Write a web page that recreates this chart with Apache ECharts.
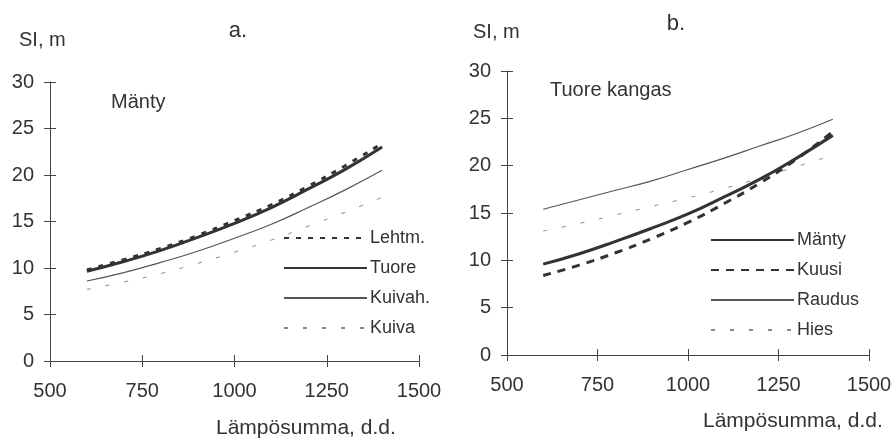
<!DOCTYPE html>
<html>
<head>
<meta charset="utf-8">
<script src="https://cdn.jsdelivr.net/npm/echarts@6/dist/echarts.min.js"></script>
<style>
html,body{margin:0;padding:0;background:#fff;}
#main{width:895px;height:439px;}
</style>
</head>
<body>
<div id="main"></div>
<script>
// ---- data ----
var lampo = [600, 700, 800, 900, 1000, 1100, 1200, 1300, 1400];
// panel a: Mänty by site type
var lehtm  = [9.8, 10.9, 12.1, 13.5, 15.1, 16.8, 18.8, 21.0, 23.4];
var tuore  = [9.65, 10.7, 11.9, 13.3, 14.8, 16.5, 18.5, 20.6, 23.0];
var kuivah = [8.6, 9.5, 10.6, 11.8, 13.2, 14.7, 16.5, 18.4, 20.5];
var kuiva  = [7.7, 8.5, 9.4, 10.5, 11.7, 13.0, 14.5, 16.0, 17.6];
// panel b: tuore kangas by species
var manty  = [9.6, 10.7, 12.0, 13.4, 14.9, 16.7, 18.6, 20.8, 23.2];
var kuusi  = [8.4, 9.5, 10.8, 12.3, 14.0, 16.0, 18.2, 20.7, 23.6];
var raudus = [15.4, 16.4, 17.4, 18.4, 19.6, 20.8, 22.1, 23.4, 24.9];
var hies   = [13.1, 13.9, 14.8, 15.7, 16.6, 17.6, 18.7, 19.9, 21.1];
var xTicks = [500, 750, 1000, 1250, 1500];
var yTicks = [0, 5, 10, 15, 20, 25, 30];
var namesA = ['Lehtm.', 'Tuore', 'Kuivah.', 'Kuiva'];
var namesB = ['Mänty', 'Kuusi', 'Raudus', 'Hies'];

function pairs(ys){ return lampo.map(function(x,i){ return [x, ys[i]]; }); }

var FONT = '"Liberation Sans", Arial, sans-serif';
var AX = '#444';
function plain(v){ return String(v); }

function xAxes(gi){
  return [{
    type:'value', gridIndex:gi, position:'bottom', offset:0,
    min:xTicks[0], max:xTicks[xTicks.length-1], interval:250,
    axisLine:{show:true, onZero:false, lineStyle:{color:AX, width:1}},
    axisTick:{show:true, inside:false, length:6, lineStyle:{color:AX}},
    axisLabel:{show:true, margin:20, fontSize:20, fontFamily:FONT, color:'#333', formatter:plain},
    splitLine:{show:false}
  },{
    type:'value', gridIndex:gi, position:'bottom', offset:0,
    min:xTicks[0], max:xTicks[xTicks.length-1], interval:250,
    axisLine:{show:false, onZero:false},
    axisTick:{show:true, inside:true, length:6, lineStyle:{color:AX}},
    axisLabel:{show:false}, splitLine:{show:false}
  }];
}
function yAxes(gi){
  return [{
    type:'value', gridIndex:gi, position:'left', offset:0,
    min:yTicks[0], max:yTicks[yTicks.length-1], interval:5,
    axisLine:{show:true, onZero:false, lineStyle:{color:AX, width:1}},
    axisTick:{show:true, inside:false, length:6, lineStyle:{color:AX}},
    axisLabel:{show:true, margin:16, fontSize:20, fontFamily:FONT, color:'#333', formatter:plain},
    splitLine:{show:false}
  },{
    type:'value', gridIndex:gi, position:'left', offset:0,
    min:yTicks[0], max:yTicks[yTicks.length-1], interval:5,
    axisLine:{show:false, onZero:false},
    axisTick:{show:true, inside:true, length:6, lineStyle:{color:AX}},
    axisLabel:{show:false}, splitLine:{show:false}
  }];
}

function line(name, ys, xi, yi, width, color, dash){
  return {
    name:name, type:'line', xAxisIndex:xi, yAxisIndex:yi,
    data:pairs(ys), smooth:true, symbol:'none', showSymbol:false,
    lineStyle:{width:width, color:color, type:dash},
    itemStyle:{color:color},
    emphasis:{disabled:true}, animation:false, z:3
  };
}

var chart = echarts.init(document.getElementById('main'), null, {renderer:'canvas'});
var legendBase = {
  orient:'vertical', itemWidth:83, itemHeight:14, itemGap:12,
  itemStyle:{opacity:0},
  textStyle:{fontSize:18, fontFamily:FONT, color:'#333', lineHeight:18, padding:[0,0,0,-2]},
  selectedMode:false, padding:0
};
chart.setOption({
  animation:false,
  backgroundColor:'#fff',
  grid:[
    {left:50, top:82, width:369, height:279},
    {left:507, top:71, width:362, height:284}
  ],
  xAxis: xAxes(0).concat(xAxes(1)),
  yAxis: yAxes(0).concat(yAxes(1)),
  legend:[
    Object.assign({}, legendBase, {left:283, top:229, data:namesA}),
    Object.assign({}, legendBase, {left:710, top:231, data:namesB})
  ],
  series:[
    line('Kuiva', kuiva, 0, 0, 1, '#888', [4,15]),
    line('Kuivah.', kuivah, 0, 0, 1.2, '#555', 'solid'),
    line('Tuore', tuore, 0, 0, 3, '#333', 'solid'),
    line('Lehtm.', lehtm, 0, 0, 3, '#333', [5,7]),
    line('Hies', hies, 2, 2, 1, '#888', [4,15]),
    line('Raudus', raudus, 2, 2, 1.2, '#555', 'solid'),
    line('Mänty', manty, 2, 2, 3, '#333', 'solid'),
    line('Kuusi', kuusi, 2, 2, 3, '#333', [8,7])
  ],
  graphic:[
    {type:'text', x:238, y:31, style:{text:'a.', fontSize:22, fontFamily:FONT, fill:'#333', textAlign:'center', textVerticalAlign:'middle'}},
    {type:'text', x:676, y:24, style:{text:'b.', fontSize:22, fontFamily:FONT, fill:'#333', textAlign:'center', textVerticalAlign:'middle'}},
    {type:'text', x:19, y:40, style:{text:'SI, m', fontSize:20, fontFamily:FONT, fill:'#333', textAlign:'left', textVerticalAlign:'middle'}},
    {type:'text', x:473, y:32, style:{text:'SI, m', fontSize:20, fontFamily:FONT, fill:'#333', textAlign:'left', textVerticalAlign:'middle'}},
    {type:'text', x:111, y:102, style:{text:'Mänty', fontSize:20, fontFamily:FONT, fill:'#333', textAlign:'left', textVerticalAlign:'middle'}},
    {type:'text', x:550, y:90, style:{text:'Tuore kangas', fontSize:20, fontFamily:FONT, fill:'#333', textAlign:'left', textVerticalAlign:'middle'}},
    {type:'text', x:216, y:428, style:{text:'Lämpösumma, d.d.', fontSize:21, fontFamily:FONT, fill:'#333', textAlign:'left', textVerticalAlign:'middle'}},
    {type:'text', x:703, y:421, style:{text:'Lämpösumma, d.d.', fontSize:21, fontFamily:FONT, fill:'#333', textAlign:'left', textVerticalAlign:'middle'}}
  ]
});
</script>
</body>
</html>
